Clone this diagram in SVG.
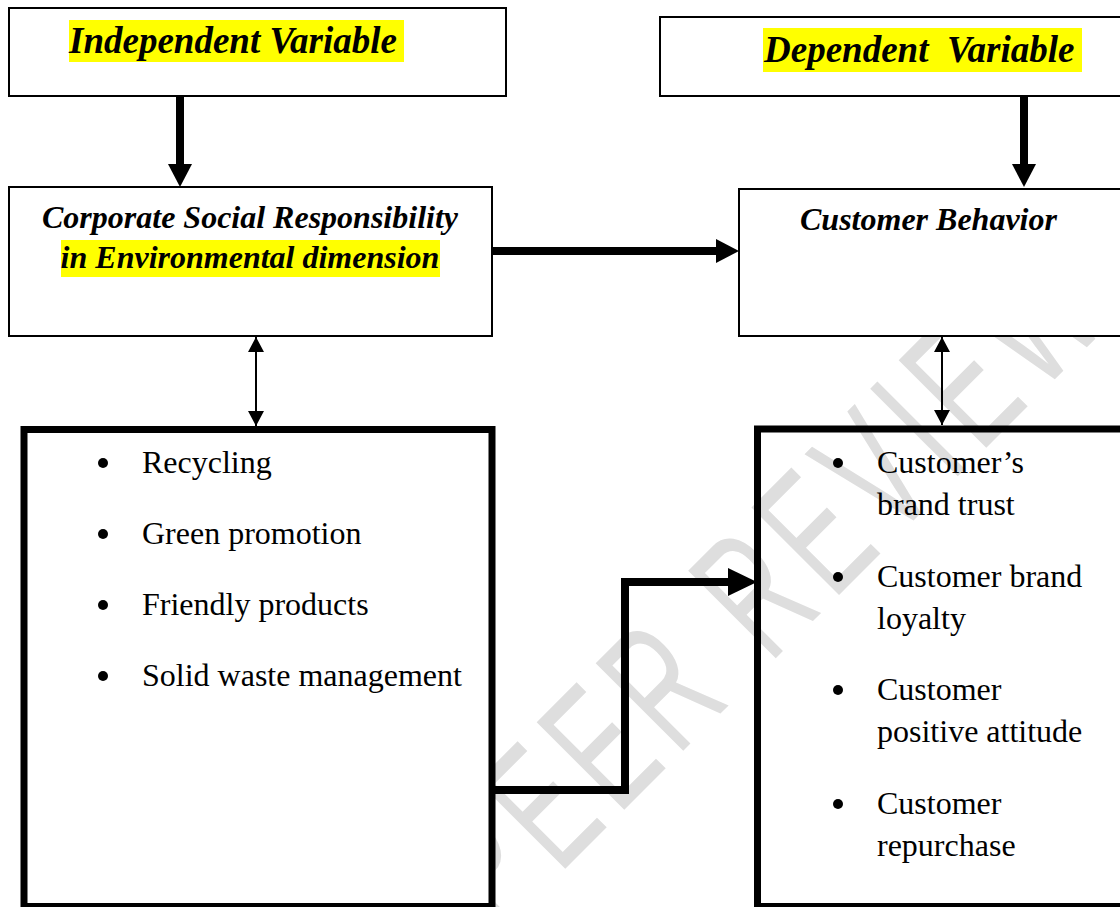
<svg xmlns="http://www.w3.org/2000/svg" width="1120" height="907" viewBox="0 0 1120 907">
<style>
.box{fill:#fff;stroke:#000;stroke-width:2}
.bbox{stroke:#000;stroke-width:7}
.hd{font-family:"Liberation Serif","Times New Roman",serif;font-weight:bold;font-style:italic;fill:#000}
.bt{font-family:"Liberation Serif","Times New Roman",serif;font-size:32px;fill:#000}
.hl{fill:#ffff00}
.thick{stroke:#000;stroke-width:8;fill:none;stroke-linejoin:miter}
.thin{stroke:#000;stroke-width:2;fill:none}
.wm{font-family:"Liberation Sans",Arial,sans-serif;font-size:180px;fill:#dedede;letter-spacing:19px}
</style>
<defs>
<marker id="headV" markerUnits="userSpaceOnUse" markerWidth="24" markerHeight="24" refX="1" refY="12" orient="auto"><path d="M0,0 L23,12 L0,24 Z" fill="#000"/></marker>
<marker id="headL" markerUnits="userSpaceOnUse" markerWidth="29" markerHeight="29" refX="1" refY="14" orient="auto"><path d="M0,0 L29,14 L0,28 Z" fill="#000"/></marker>
<marker id="headT" markerUnits="userSpaceOnUse" markerWidth="16" markerHeight="16" refX="15" refY="8" orient="auto-start-reverse"><path d="M0,0 L15,8 L0,16 Z" fill="#000"/></marker>
</defs>
<rect width="1120" height="907" fill="#fff"/>
<g id="watermark">
<text class="wm" transform="translate(500,934) rotate(-45) scale(0.6,1)" x="0" y="0">PEER REVIEW</text>
</g>
<g id="independent">
<rect class="box" x="9" y="8" width="497" height="88"/>
<rect class="hl" x="69" y="20" width="335" height="42"/>
<text class="hd" x="69" y="53" font-size="37">Independent Variable</text>
</g>
<g id="dependent">
<rect class="box" x="660" y="17" width="470" height="79"/>
<rect class="hl" x="763" y="28" width="319" height="44"/>
<text class="hd" x="764" y="62" font-size="37" xml:space="preserve">Dependent  Variable</text>
</g>
<g id="csr">
<rect class="box" x="9" y="187" width="483" height="149"/>
<rect class="hl" x="61" y="240" width="379" height="37"/>
<text class="hd" x="250" y="228" font-size="32" text-anchor="middle">Corporate Social Responsibility</text>
<text class="hd" x="250" y="268" font-size="32" text-anchor="middle">in Environmental dimension</text>
</g>
<g id="behavior">
<rect class="box" x="739" y="189" width="391" height="147"/>
<text class="hd" x="800" y="230" font-size="32">Customer Behavior</text>
</g>
<g id="csr-items">
<rect class="bbox" fill="#fff" x="24" y="429.5" width="468" height="477"/>
<circle cx="103" cy="463" r="5"/>
<text class="bt" x="142" y="473">Recycling</text>
<circle cx="103" cy="534" r="5"/>
<text class="bt" x="142" y="544">Green promotion</text>
<circle cx="103" cy="605" r="5"/>
<text class="bt" x="142" y="615">Friendly products</text>
<circle cx="103" cy="676" r="5"/>
<text class="bt" x="142" y="686">Solid waste management</text>
</g>
<g id="behavior-items">
<rect class="bbox" fill="none" x="757.5" y="429" width="380" height="477.5"/>
<circle cx="838" cy="463" r="5"/>
<text class="bt" x="877" y="473">Customer’s</text>
<text class="bt" x="877" y="515">brand trust</text>
<circle cx="838" cy="577" r="5"/>
<text class="bt" x="877" y="587">Customer brand</text>
<text class="bt" x="877" y="629">loyalty</text>
<circle cx="838" cy="690" r="5"/>
<text class="bt" x="877" y="700">Customer</text>
<text class="bt" x="877" y="742">positive attitude</text>
<circle cx="838" cy="804" r="5"/>
<text class="bt" x="877" y="814">Customer</text>
<text class="bt" x="877" y="856">repurchase</text>
</g>
<g id="connectors">
<line class="thick" x1="180" y1="96" x2="180" y2="165" marker-end="url(#headV)"/>
<line class="thick" x1="1024" y1="96" x2="1024" y2="165" marker-end="url(#headV)"/>
<line class="thick" x1="492" y1="251" x2="717" y2="251" marker-end="url(#headV)"/>
<polyline class="thick" points="495,790 625,790 625,582 729,582" marker-end="url(#headL)"/>
<line class="thin" x1="256" y1="337" x2="256" y2="426" marker-start="url(#headT)" marker-end="url(#headT)"/>
<line class="thin" x1="942" y1="337" x2="942" y2="425" marker-start="url(#headT)" marker-end="url(#headT)"/>
</g>
</svg>
